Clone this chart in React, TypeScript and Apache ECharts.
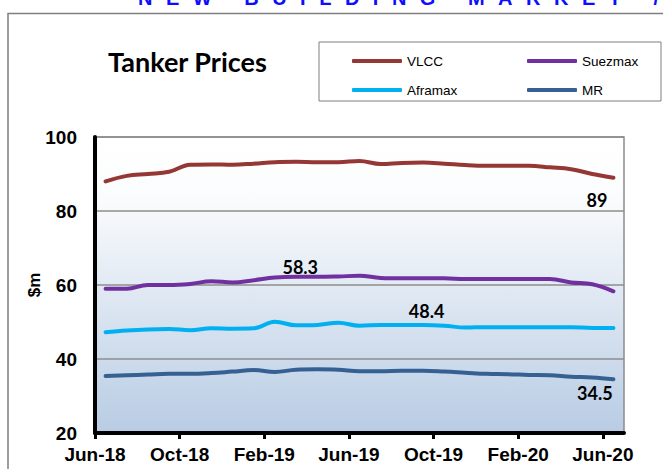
import React, { useEffect, useRef } from "react";
import * as echarts from "echarts";

const months = [
  "Jun-18", "Jul-18", "Aug-18", "Sep-18", "Oct-18", "Nov-18", "Dec-18",
  "Jan-19", "Feb-19", "Mar-19", "Apr-19", "May-19", "Jun-19", "Jul-19",
  "Aug-19", "Sep-19", "Oct-19", "Nov-19", "Dec-19", "Jan-20", "Feb-20",
  "Mar-20", "Apr-20", "May-20", "Jun-20",
];
const tickLabels = ["Jun-18", "Oct-18", "Feb-19", "Jun-19", "Oct-19", "Feb-20", "Jun-20"];

const vlcc = [88, 89.5, 90, 90.6, 92.5, 92.6, 92.5, 92.8, 93.2, 93.3, 93.2, 93.2, 93.5, 92.7, 93, 93.1, 92.8, 92.4, 92.2, 92.2, 92.2, 91.8, 91.3, 90, 89];
const suezmax = [59, 59, 60, 60, 60.3, 61, 60.7, 61.3, 62, 62.2, 62.2, 62.3, 62.5, 61.9, 61.8, 61.8, 61.8, 61.6, 61.6, 61.6, 61.6, 61.6, 60.7, 60.2, 58.3];
const aframax = [47.2, 47.7, 48, 48.1, 47.8, 48.3, 48.2, 48.3, 50.1, 49.1, 49.2, 49.8, 49, 49.2, 49.2, 49.2, 49, 48.5, 48.6, 48.6, 48.6, 48.6, 48.6, 48.4, 48.4];
const mr = [35.4, 35.6, 35.8, 36, 36, 36.2, 36.6, 37, 36.5, 37.1, 37.2, 37.1, 36.7, 36.7, 36.8, 36.8, 36.6, 36.3, 36, 35.9, 35.7, 35.6, 35.2, 35, 34.5];

const colors = { VLCC: "#953735", Suezmax: "#7030a0", Aframax: "#00b0f0", MR: "#376092" };

const toPoints = (vals: number[]) => months.map((_, i) => [i + 0.5, vals[i]]);

export default function App() {
  const ref = useRef<HTMLDivElement>(null);
  useEffect(() => {
    if (!ref.current) return;
    const chart = echarts.init(ref.current, null, { renderer: "svg" });
    const labelStyle = {
      show: true,
      position: "inside",
      fontFamily: "Lato",
      fontWeight: "bold",
      fontSize: 18,
      color: "#000",
    };
    const mkLabel = (coord: number[], value: number) => ({
      symbol: "rect",
      symbolSize: 1,
      itemStyle: { color: "rgba(0,0,0,0)" },
      label: { ...labelStyle, formatter: String(value) },
      data: [{ coord, value }],
    });
    const line = (name: string, vals: number[], mp: any) => ({
      name,
      type: "line",
      data: toPoints(vals),
      symbol: "none",
      smooth: 0.4,
      lineStyle: { color: (colors as any)[name], width: 4, cap: "round", join: "round" },
      itemStyle: { color: (colors as any)[name] },
      markPoint: mp,
      z: 3,
    });
    const legendBase = {
      icon: "roundRect",
      itemWidth: 50,
      itemHeight: 4,
      textStyle: { fontFamily: "Liberation Sans", fontSize: 13.5, color: "#000" },
      selectedMode: false,
    };
    chart.setOption({
      animation: false,
      backgroundColor: "#ffffff",
      title: {
        text: "Tanker Prices",
        left: 103,
        top: 43,
        textStyle: { fontFamily: "Lato", fontWeight: "bold", fontSize: 27, color: "#000" },
      },
      legend: [
        { ...legendBase, data: ["VLCC"], left: 347, top: 49 },
        { ...legendBase, data: ["Suezmax"], left: 522, top: 49 },
        { ...legendBase, data: ["Aframax"], left: 347, top: 78 },
        { ...legendBase, data: ["MR"], left: 522, top: 78 },
      ],
      graphic: [
        {
          type: "rect",
          shape: { x: 8, y: 13.5, width: 700, height: 500 },
          style: { fill: "none", stroke: "#7f7f7f", lineWidth: 1.5 },
          z: -10,
        },
        {
          type: "rect",
          shape: { x: 319, y: 42, width: 342, height: 59 },
          style: { fill: "#fff", stroke: "#7f7f7f", lineWidth: 1 },
          z: -5,
        },
      ],
      grid: {
        left: 95,
        right: 39,
        top: 137,
        bottom: 36,
        show: true,
        borderColor: "#8c8c8c",
        borderWidth: 1.5,
        backgroundColor: {
          type: "linear",
          x: 0, y: 0, x2: 0, y2: 1,
          colorStops: [
            { offset: 0, color: "#ffffff" },
            { offset: 0.2, color: "#fbfcfd" },
            { offset: 1, color: "#b8cce4" },
          ],
        },
      },
      xAxis: {
        type: "value",
        min: 0,
        max: 25,
        interval: 4,
        splitLine: { show: false },
        axisLine: { onZero: false, lineStyle: { color: "#000", width: 4 } },
        axisTick: {
          show: true,
          customValues: [0, 4, 8, 12, 16, 20, 24],
          length: 6,
          lineStyle: { color: "#000", width: 3 },
        },
        axisLabel: {
          customValues: [0, 4, 8, 12, 16, 20, 24],
          formatter: (v: number) => tickLabels[Math.round(v / 4)] ?? "",
          fontFamily: "Liberation Sans",
          fontWeight: "bold",
          fontSize: 19,
          color: "#000",
          margin: 12,
        },
      },
      yAxis: {
        type: "value",
        min: 20,
        max: 100,
        interval: 20,
        name: "$m",
        nameLocation: "middle",
        nameRotate: 90,
        nameGap: 52,
        nameMoveOverlap: false,
        nameTextStyle: { fontFamily: "Liberation Sans", fontWeight: "bold", fontSize: 17, color: "#000" },
        axisLine: { show: true, onZero: false, lineStyle: { color: "#000", width: 4 } },
        axisTick: { show: false },
        splitLine: { show: true, lineStyle: { color: "#8c8c8c", width: 1.5 } },
        axisLabel: {
          fontFamily: "Liberation Sans",
          fontWeight: "bold",
          fontSize: 19,
          color: "#000",
          margin: 18,
        },
      },
      series: [
        line("VLCC", vlcc, mkLabel([23.72, 83.0], vlcc[vlcc.length - 1])),
        line("Suezmax", suezmax, mkLabel([9.7, 64.9], suezmax[suezmax.length - 1])),
        line("Aframax", aframax, mkLabel([15.67, 53.0], aframax[aframax.length - 1])),
        line("MR", mr, mkLabel([23.62, 30.8], mr[mr.length - 1])),
      ],
    });
    return () => chart.dispose();
  }, []);

  return (
    <div style={{ position: "fixed", left: 0, top: 0, width: 663, height: 469, overflow: "hidden", background: "#fff" }}>
      <div ref={ref} style={{ position: "absolute", left: 0, top: 0, width: 663, height: 469 }} />
      <div
        style={{
          position: "absolute",
          left: 138,
          top: -12,
          fontFamily: "Liberation Sans",
          fontWeight: "bold",
          fontSize: 20,
          lineHeight: "20px",
          letterSpacing: 13.5,
          color: "#0d0dff",
          whiteSpace: "nowrap",
        }}
      >
        NEW BUILDING MARKET / PRICES
      </div>
    </div>
  );
}
